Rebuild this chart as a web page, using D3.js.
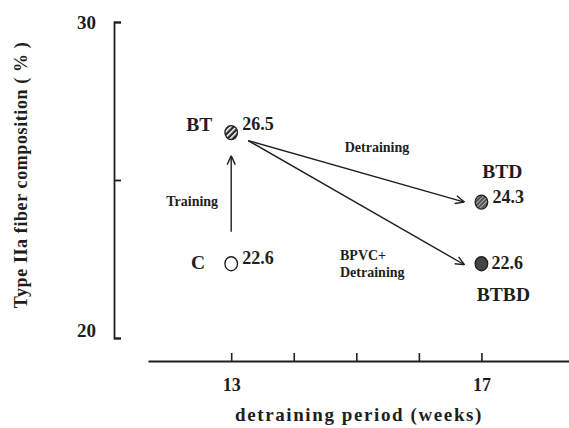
<!DOCTYPE html>
<html>
<head>
<meta charset="utf-8">
<script src="https://cdn.jsdelivr.net/npm/d3@7"></script>
<style>
  body { margin: 0; background: #fff; }
  svg text { font-family: "Liberation Serif", "Times New Roman", "DejaVu Serif", serif !important; font-weight: bold; fill: #1e1e1e; }
</style>
</head>
<body>
<div id="chart"></div>
<script>
// groups drawn on the chart
const groups = ["C", "BT", "BTD", "BTBD"];
const weeks = [13, 13, 17, 17];
// where each point sits on the y axis
const plotted = [22.35, 26.5, 24.3, 22.35];
// the value written next to each point
const valueLabels = ["22.6", "26.5", "24.3", "22.6"];
const xTicks = [13, 14, 15, 16, 17];
const xTickLabels = { 13: "13", 17: "17" };
const yTicks = [20, 25, 30];
const yTickLabels = { 20: "20", 30: "30" };

const width = 569;
const height = 428;
const ink = "#1e1e1e";

const x = d3.scaleLinear().domain([11.67, 18.4]).range([148, 569]);
const y = d3.scaleLinear().domain([20, 30]).range([338, 22]);

const svg = d3
  .select("#chart")
  .append("svg")
  .attr("width", width)
  .attr("height", height)
  .attr("viewBox", [0, 0, width, height]);

const defs = svg.append("defs");

function hatch(id, bg, stripe, size) {
  const p = defs
    .append("pattern")
    .attr("id", id)
    .attr("patternUnits", "userSpaceOnUse")
    .attr("width", size)
    .attr("height", size)
    .attr("patternTransform", "rotate(45)");
  p.append("rect").attr("width", size).attr("height", size).attr("fill", bg);
  p.append("rect").attr("width", size * 0.4).attr("height", size).attr("fill", stripe);
}
hatch("hatchBT", "#2b2b2b", "#ffffff", 4);
hatch("hatchBTD", "#4a4a4a", "#a8a8a8", 3);

defs
  .append("marker")
  .attr("id", "arrow")
  .attr("viewBox", "0 0 10 10")
  .attr("refX", 10)
  .attr("refY", 5)
  .attr("markerWidth", 10)
  .attr("markerHeight", 10)
  .attr("markerUnits", "userSpaceOnUse")
  .attr("orient", "auto")
  .append("path")
  .attr("d", "M1,1 L10,5 L1,9")
  .attr("fill", "none")
  .attr("stroke", ink)
  .attr("stroke-width", 1.4);

// y axis (ticks point inward)
const yAxis = svg
  .append("g")
  .attr("transform", `translate(${114},0)`)
  .call(
    d3
      .axisLeft(y)
      .tickValues(yTicks)
      .tickSizeInner(-7)
      .tickSizeOuter(-7)
      .tickPadding(18)
      .tickFormat((d) => yTickLabels[d] || "")
  );
yAxis.select(".domain").attr("stroke", ink).attr("stroke-width", 1.8);
yAxis.selectAll(".tick line").attr("stroke", ink).attr("stroke-width", 1.8);
yAxis
  .selectAll(".tick text")
  .style("font-size", "19px")
  .attr("dy", (d) => (d === 20 ? "-0.1em" : "0.32em"));

// x axis (ticks point upward)
const xAxis = svg
  .append("g")
  .attr("transform", `translate(0,${361})`)
  .call(
    d3
      .axisBottom(x)
      .tickValues(xTicks)
      .tickSizeInner(-8)
      .tickSizeOuter(0)
      .tickPadding(17)
      .tickFormat((d) => xTickLabels[d] || "")
  );
xAxis.select(".domain").attr("stroke", ink).attr("stroke-width", 1.8);
xAxis.selectAll(".tick line").attr("stroke", ink).attr("stroke-width", 1.6);
xAxis.selectAll(".tick text").style("font-size", "18px");

// axis titles
svg
  .append("text")
  .attr("x", 359)
  .attr("y", 421)
  .attr("text-anchor", "middle")
  .style("font-size", "19px")
  .style("letter-spacing", "1.6px")
  .text("detraining period (weeks)");

svg
  .append("text")
  .attr("transform", `translate(27,${175}) rotate(-90)`)
  .attr("text-anchor", "middle")
  .style("font-size", "18px")
  .style("letter-spacing", "0.6px")
  .text("Type IIa fiber composition ( % )");

const points = groups.map((g, i) => ({
  group: g,
  week: weeks[i],
  value: plotted[i],
  label: valueLabels[i],
}));
const byGroup = Object.fromEntries(points.map((d) => [d.group, d]));

// arrows
const arrows = [
  { from: "C", to: "BT", x1: 0, y1: -32, x2: 0, y2: 23 },
  { from: "BT", to: "BTD", x1: 17, y1: 8, x2: -17, y2: 0 },
  { from: "BT", to: "BTBD", x1: 17, y1: 8, x2: -17, y2: 1 },
];
svg
  .append("g")
  .selectAll("line")
  .data(arrows)
  .join("line")
  .attr("x1", (d) => x(byGroup[d.from].week) + d.x1)
  .attr("y1", (d) => y(byGroup[d.from].value) + d.y1)
  .attr("x2", (d) => x(byGroup[d.to].week) + d.x2)
  .attr("y2", (d) => y(byGroup[d.to].value) + d.y2)
  .attr("stroke", ink)
  .attr("stroke-width", 1.4)
  .attr("marker-end", "url(#arrow)");

// points
const fills = { C: "#ffffff", BT: "url(#hatchBT)", BTD: "url(#hatchBTD)", BTBD: "#454545" };
svg
  .append("g")
  .selectAll("ellipse")
  .data(points)
  .join("ellipse")
  .attr("cx", (d) => x(d.week))
  .attr("cy", (d) => y(d.value))
  .attr("rx", 6.3)
  .attr("ry", 7)
  .attr("fill", (d) => fills[d.group])
  .attr("stroke", ink)
  .attr("stroke-width", 1.3);

// value labels
const valueOffset = {
  C: [11, -6],
  BT: [11, -9],
  BTD: [11, -5],
  BTBD: [10, -1],
};
svg
  .append("g")
  .selectAll("text")
  .data(points)
  .join("text")
  .attr("x", (d) => x(d.week) + valueOffset[d.group][0])
  .attr("y", (d) => y(d.value) + valueOffset[d.group][1])
  .attr("dy", "0.35em")
  .style("font-size", "18px")
  .text((d) => d.label);

// group names
const nameOffset = {
  C: [-26, -2, "end"],
  BT: [-19, -8, "end"],
  BTD: [21, -31, "middle"],
  BTBD: [22, 30, "middle"],
};
svg
  .append("g")
  .selectAll("text")
  .data(points)
  .join("text")
  .attr("x", (d) => x(d.week) + nameOffset[d.group][0])
  .attr("y", (d) => y(d.value) + nameOffset[d.group][1])
  .attr("dy", "0.35em")
  .attr("text-anchor", (d) => nameOffset[d.group][2])
  .style("font-size", "19.5px")
  .text((d) => d.group);

// arrow captions
const captions = [
  { lines: ["Training"], x: x(13) - 39, y: 201, anchor: "middle" },
  { lines: ["Detraining"], x: 377, y: 147, anchor: "middle" },
  { lines: ["BPVC+", "Detraining"], x: 340, y: 255, anchor: "start" },
];
captions.forEach((c) => {
  const t = svg
    .append("text")
    .attr("x", c.x)
    .attr("y", c.y)
    .attr("text-anchor", c.anchor)
    .style("font-size", "14px");
  c.lines.forEach((line, i) => {
    t.append("tspan")
      .attr("x", c.x)
      .attr("dy", i === 0 ? "0.35em" : "1.2em")
      .text(line);
  });
});
</script>
</body>
</html>
